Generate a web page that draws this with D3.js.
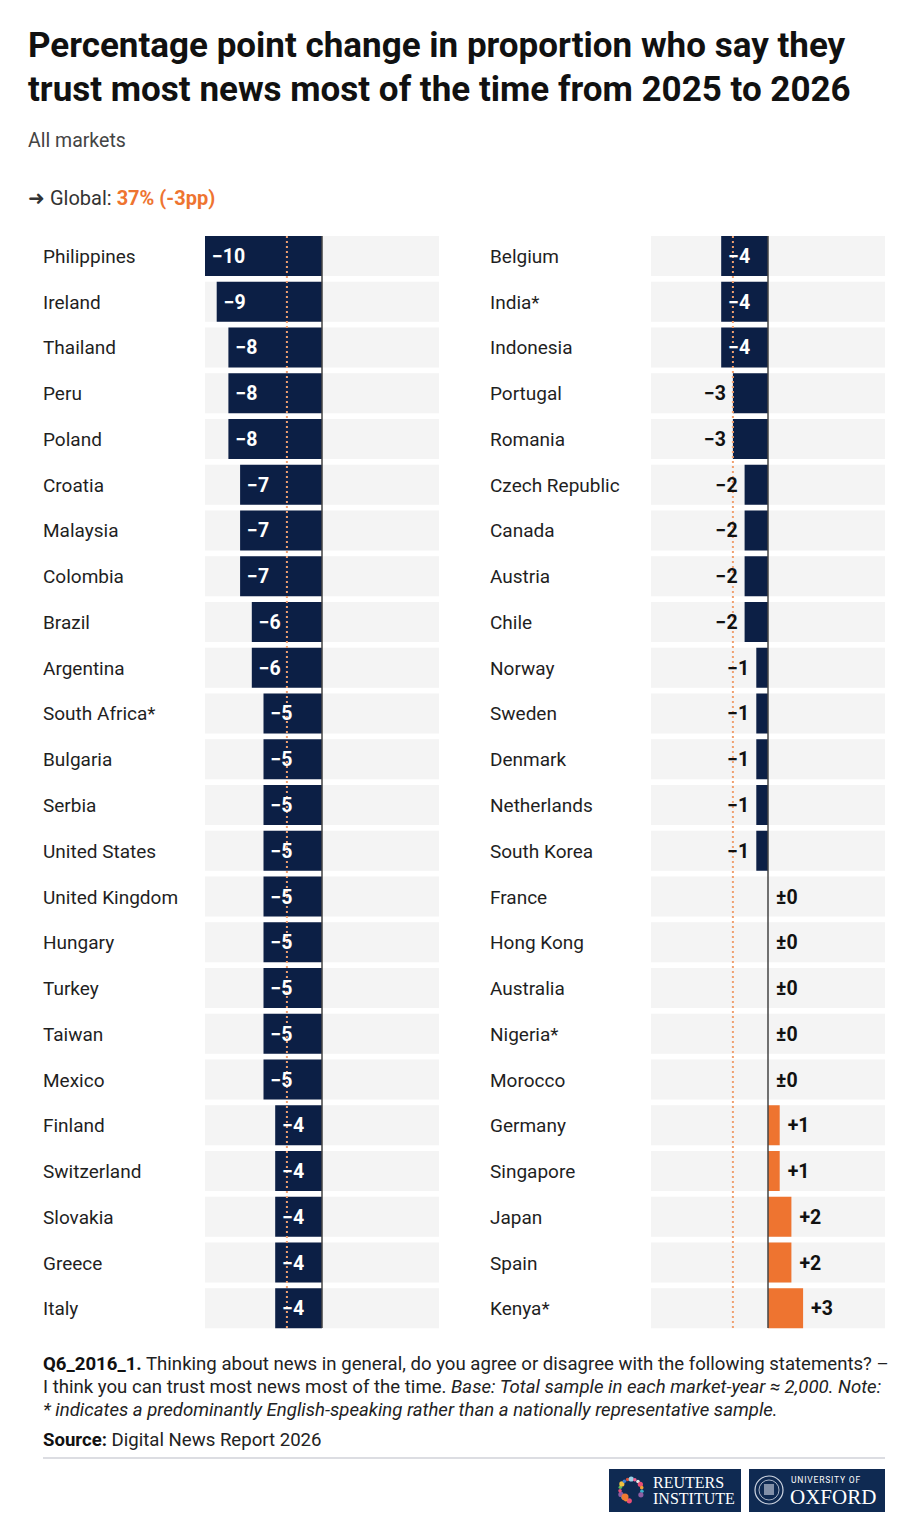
<!DOCTYPE html>
<html>
<head>
<meta charset="utf-8">
<script src="https://cdn.jsdelivr.net/npm/d3@7"></script>
<style>
  body { margin: 0; background: #fff; }
  svg { display: block; font-family: Roboto, "Noto Sans", sans-serif; }
  .country { font-size: 19px; fill: #1f1f1f; }
  .val { font-size: 19.5px; font-weight: 700; }
</style>
</head>
<body>
<svg id="chart" width="912" height="1530"></svg>
<script>
const leftCountries = ["Philippines", "Ireland", "Thailand", "Peru", "Poland", "Croatia", "Malaysia", "Colombia",
  "Brazil", "Argentina", "South Africa*", "Bulgaria", "Serbia", "United States", "United Kingdom", "Hungary",
  "Turkey", "Taiwan", "Mexico", "Finland", "Switzerland", "Slovakia", "Greece", "Italy"];
const leftValues = [-10, -9, -8, -8, -8, -7, -7, -7, -6, -6, -5, -5, -5, -5, -5, -5, -5, -5, -5, -4, -4, -4, -4, -4];

const rightCountries = ["Belgium", "India*", "Indonesia", "Portugal", "Romania", "Czech Republic", "Canada", "Austria",
  "Chile", "Norway", "Sweden", "Denmark", "Netherlands", "South Korea", "France", "Hong Kong", "Australia",
  "Nigeria*", "Morocco", "Germany", "Singapore", "Japan", "Spain", "Kenya*"];
const rightValues = [-4, -4, -4, -3, -3, -2, -2, -2, -2, -1, -1, -1, -1, -1, 0, 0, 0, 0, 0, 1, 1, 2, 2, 3];

const globalChange = -3;
const domain = [-10, 10];

const navy = "#0c1f45";
const orange = "#ee7430";

const svg = d3.select("#chart");

// Title block
svg.append("text").attr("x", 28).attr("y", 57)
  .attr("font-size", 35).attr("font-weight", 700).attr("fill", "#111")
  .text("Percentage point change in proportion who say they");
svg.append("text").attr("x", 28).attr("y", 101)
  .attr("font-size", 35).attr("font-weight", 700).attr("fill", "#111")
  .text("trust most news most of the time from 2025 to 2026");
svg.append("text").attr("x", 28).attr("y", 147)
  .attr("font-size", 19.5).attr("fill", "#444").text("All markets");

const glob = svg.append("text").attr("x", 28).attr("y", 205).attr("font-size", 20).attr("fill", "#333");
glob.append("tspan").text("\u279C Global: ");
glob.append("tspan").attr("fill", orange).attr("font-weight", 700).text("37% (-3pp)");

function fmt(v) {
  if (v === 0) return "\u00B10";
  return v > 0 ? "+" + v : "\u2212" + Math.abs(v);
}

function drawPanel(countries, values, labelX, trackX) {
  const g = svg.append("g");
  const x = d3.scaleLinear(domain, [trackX, trackX + 234]);
  const y = d3.scaleBand(countries, [236, 1328.25]).paddingInner(0.1257).paddingOuter(0);
  const data = countries.map((c, i) => ({ c, v: values[i] }));

  g.selectAll("rect.track").data(data).join("rect").attr("class", "track")
    .attr("x", x(domain[0])).attr("width", x(domain[1]) - x(domain[0]))
    .attr("y", d => y(d.c)).attr("height", y.bandwidth())
    .attr("fill", "#f4f4f4");

  g.selectAll("text.country").data(data).join("text").attr("class", "country")
    .attr("x", labelX).attr("y", d => y(d.c) + y.bandwidth() / 2 + 7)
    .text(d => d.c);

  g.selectAll("rect.bar").data(data.filter(d => d.v !== 0)).join("rect").attr("class", "bar")
    .attr("x", d => x(Math.min(0, d.v))).attr("width", d => Math.abs(x(d.v) - x(0)))
    .attr("y", d => y(d.c)).attr("height", y.bandwidth())
    .attr("fill", d => d.v < 0 ? navy : orange);

  // zero line
  g.append("line").attr("x1", x(0)).attr("x2", x(0))
    .attr("y1", 236).attr("y2", 1328).attr("stroke", "#444").attr("stroke-width", 1.5);

  // global average marker
  g.append("line").attr("x1", x(globalChange)).attr("x2", x(globalChange))
    .attr("y1", 236).attr("y2", 1328)
    .attr("stroke", "#f0a070").attr("stroke-width", 2).attr("stroke-dasharray", "2 3");

  g.selectAll("text.val").data(data).join("text").attr("class", "val")
    .attr("y", d => y(d.c) + y.bandwidth() / 2 + 7)
    .attr("x", d => {
      if (d.v <= -4) return x(d.v) + 7;
      if (d.v < 0) return x(d.v) - 7;
      return x(d.v) + 8;
    })
    .attr("text-anchor", d => (d.v < 0 && d.v > -4) ? "end" : "start")
    .attr("fill", d => d.v <= -4 ? "#fff" : "#111")
    .text(d => fmt(d.v));
}

drawPanel(leftCountries, leftValues, 43, 205);
drawPanel(rightCountries, rightValues, 490, 651);

// Footnote
const foot = svg.append("g").attr("font-size", 18.6).attr("fill", "#222");
const l1 = foot.append("text").attr("x", 43).attr("y", 1370);
l1.append("tspan").attr("font-weight", 700).attr("fill", "#111").text("Q6_2016_1.");
l1.append("tspan").text(" Thinking about news in general, do you agree or disagree with the following statements? \u2013");
const l2 = foot.append("text").attr("x", 43).attr("y", 1393);
l2.append("tspan").text("I think you can trust most news most of the time. ");
l2.append("tspan").attr("font-style", "italic").text("Base: Total sample in each market-year \u2248 2,000. Note:");
foot.append("text").attr("x", 43).attr("y", 1416).attr("font-style", "italic")
  .text("* indicates a predominantly English-speaking rather than a nationally representative sample.");
const src = foot.append("text").attr("x", 43).attr("y", 1446);
src.append("tspan").attr("font-weight", 700).attr("fill", "#111").text("Source:");
src.append("tspan").text(" Digital News Report 2026");

svg.append("line").attr("x1", 43).attr("x2", 885).attr("y1", 1458).attr("y2", 1458)
  .attr("stroke", "#dcdde2").attr("stroke-width", 2);

// Logos
const logoR = svg.append("g").attr("transform", "translate(609,1469)");
logoR.append("rect").attr("width", 132).attr("height", 43).attr("fill", "#0f2a52");
const dotColors = ["#e94e77", "#f39c33", "#3ab0c8", "#8e5ea2", "#e94e77", "#5cb85c", "#f0c040", "#3a7bd5", "#d94f3a", "#9ad0e6", "#f06292", "#e8e8e8"];
d3.range(16).forEach(i => {
  const a = Math.PI * 0.55 + i * (Math.PI * 1.7 / 16);
  logoR.append("circle")
    .attr("cx", 22 + 11 * Math.cos(a)).attr("cy", 21 + 11 * Math.sin(a))
    .attr("r", i % 3 === 0 ? 2.6 : 1.8).attr("fill", dotColors[i % dotColors.length]);
});
logoR.append("circle").attr("cx", 16).attr("cy", 28).attr("r", 3.5).attr("fill", "#f07a32");
logoR.append("text").attr("x", 44).attr("y", 19).attr("font-family", "Liberation Serif, serif")
  .attr("font-size", 16).attr("fill", "#fff").text("REUTERS");
logoR.append("text").attr("x", 44).attr("y", 35).attr("font-family", "Liberation Serif, serif")
  .attr("font-size", 16).attr("fill", "#fff").text("INSTITUTE");

const logoO = svg.append("g").attr("transform", "translate(749,1469)");
logoO.append("rect").attr("width", 136).attr("height", 43).attr("fill", "#0f2a52");
logoO.append("circle").attr("cx", 20).attr("cy", 21).attr("r", 14).attr("fill", "none").attr("stroke", "#cfd6e2").attr("stroke-width", 1.2);
logoO.append("circle").attr("cx", 20).attr("cy", 21).attr("r", 10).attr("fill", "none").attr("stroke", "#cfd6e2").attr("stroke-width", 0.8);
logoO.append("rect").attr("x", 15).attr("y", 15).attr("width", 10).attr("height", 11).attr("fill", "#cfd6e2").attr("opacity", 0.6);
logoO.append("text").attr("x", 42).attr("y", 14).attr("font-size", 8.5).attr("letter-spacing", 0.8)
  .attr("fill", "#fff").text("UNIVERSITY OF");
logoO.append("text").attr("x", 41).attr("y", 35).attr("font-family", "Liberation Serif, serif")
  .attr("font-size", 21).attr("fill", "#fff").text("OXFORD");
</script>
</body>
</html>
